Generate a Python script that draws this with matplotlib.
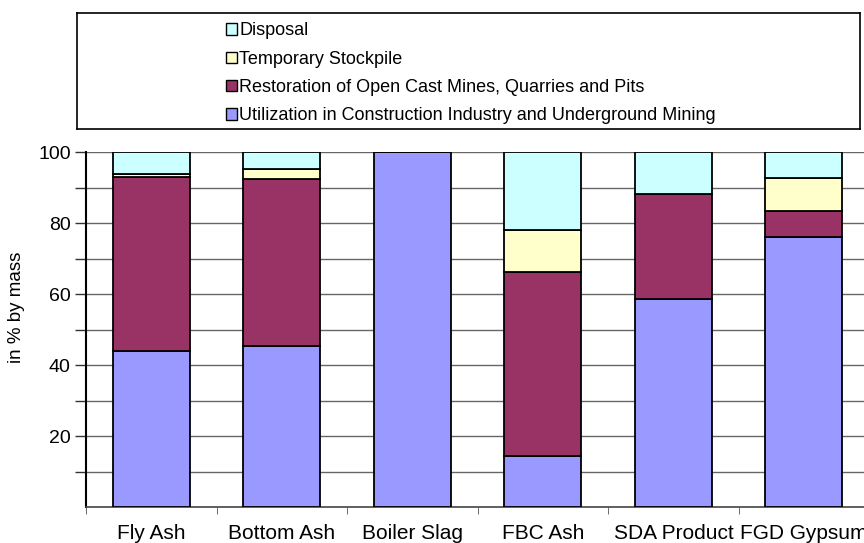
import numpy as np
import matplotlib
matplotlib.use("Agg")
import matplotlib.pyplot as plt
from matplotlib.patches import Patch

plt.rcParams['font.family'] = ['Liberation Sans', 'DejaVu Sans']

categories = ["Fly Ash", "Bottom Ash", "Boiler Slag", "FBC Ash", "SDA Product", "FGD Gypsum"]
utilization = [44.0, 45.4, 100.0, 14.4, 58.5, 76.0]
restoration = [49.0, 47.0, 0.0, 51.9, 29.6, 7.4]
stockpile = [0.8, 2.7, 0.0, 11.6, 0.0, 9.2]
disposal = [6.2, 4.9, 0.0, 22.1, 11.9, 7.4]

series = [
    ("Utilization in Construction Industry and Underground Mining", utilization, "#9999FF"),
    ("Restoration of Open Cast Mines, Quarries and Pits", restoration, "#993366"),
    ("Temporary Stockpile", stockpile, "#FFFFCC"),
    ("Disposal", disposal, "#CCFFFF"),
]

fig = plt.figure(figsize=(8.64, 5.43), dpi=100)
ax = fig.add_axes([0.0995, 0.0663, 0.9065, 0.6537])

x = np.arange(len(categories))
bottom = np.zeros(len(categories))
for name, vals, col in series:
    vals = np.array(vals)
    ax.bar(x, vals, width=0.59, bottom=bottom, color=col,
           edgecolor="black", linewidth=1.3, zorder=3)
    bottom += vals

ax.set_xlim(-0.5, len(categories) - 0.5)
ax.set_ylim(0, 100)

# every 10% gets a gridline, only every 20% gets a label
ax.set_yticks(np.arange(10, 101, 10))
ax.set_yticklabels(["", "20", "", "40", "", "60", "", "80", "", "100"], fontsize=14)
ax.yaxis.grid(True, color="#666666", linewidth=1, zorder=0)
ax.tick_params(axis="y", direction="out", length=8, width=1, color="#333333", pad=3)

ax.set_xticks(x)
ax.set_xticklabels(categories, fontsize=15)
ax.set_xticks(np.arange(-0.5, len(categories), 1), minor=True)
ax.tick_params(axis="x", which="major", length=0, pad=12)
ax.tick_params(axis="x", which="minor", direction="out", length=5, color="#555555")

ax.set_ylabel("in % by mass", fontsize=13.5)
ax.yaxis.set_label_coords(-0.078, 0.563)

for side in ["top", "right"]:
    ax.spines[side].set_visible(False)
ax.spines["left"].set_linewidth(1.5)
ax.spines["left"].set_color("black")
ax.spines["bottom"].set_color("#444444")
ax.spines["bottom"].set_linewidth(1.2)

# legend in its own framed box above the plot
handles = [Patch(facecolor=col, edgecolor="black", linewidth=1, label=name)
           for name, vals, col in reversed(series)]
box = fig.add_axes([0.0891, 0.7624, 0.9063, 0.2136])
box.set_xticks([])
box.set_yticks([])
for s in box.spines.values():
    s.set_linewidth(1.2)
box.legend(handles=handles, loc="center left", bbox_to_anchor=(0.181, 0.48),
           frameon=False, fontsize=13, handlelength=0.6, handleheight=0.6,
           handletextpad=0.15, labelspacing=0.63, borderaxespad=0)

fig.savefig("out.png", dpi=100)
